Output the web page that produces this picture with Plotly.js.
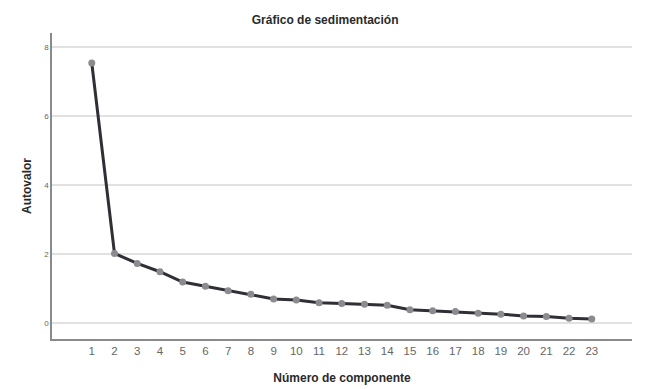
<!DOCTYPE html>
<html>
<head>
<meta charset="utf-8">
<script src="https://cdn.plot.ly/plotly-3.0.1.min.js"></script>
<style>html,body{margin:0;padding:0;background:#fff;}#chart{width:669px;height:389px;}</style>
</head>
<body>
<div id="chart"></div>
<script>
const components = [1,2,3,4,5,6,7,8,9,10,11,12,13,14,15,16,17,18,19,20,21,22,23];
const eigenvalues = [7.55,2.03,1.74,1.50,1.20,1.08,0.95,0.85,0.71,0.68,0.60,0.58,0.56,0.53,0.40,0.37,0.35,0.30,0.27,0.22,0.20,0.15,0.13];
const yTicks = [0,2,4,6,8];
const titleText = "Gráfico de sedimentación";
const xTitle = "Número de componente";
const yTitle = "Autovalor";

const trace = {
  x: components,
  y: eigenvalues,
  type: 'scatter',
  mode: 'lines+markers',
  line: {color: '#2f2f35', width: 3},
  marker: {color: '#8c8c90', size: 7},
  hoverinfo: 'x+y'
};

const layout = {
  width: 669, height: 389,
  paper_bgcolor: '#fff', plot_bgcolor: '#fff',
  margin: {l: 52, r: 37, t: 33, b: 50},
  showlegend: false,
  font: {family: 'Liberation Sans, Arial, sans-serif', color: '#444'},
  title: {text: titleText, x: 0.486, xanchor: 'center', y: 0.948, yanchor: 'middle', xref: 'container',
          font: {family: 'Liberation Sans, Arial, sans-serif', size: 12, color: '#2a2a2a', weight: 'bold'}},
  xaxis: {
    range: [-0.75, 24.77],
    tickvals: components,
    ticktext: components.map(String),
    tickfont: {size: 11.5, color: '#666'},
    showgrid: false, zeroline: false,
    showline: true, linecolor: '#8a8a8a', linewidth: 1.5,
    ticks: '', ticklen: 0,
    title: {text: xTitle, standoff: 18, font: {size: 12, color: '#2a2a2a', weight: 'bold'}}
  },
  yaxis: {
    range: [-0.45, 8.42],
    tickvals: yTicks,
    ticktext: yTicks.map(String),
    tickfont: {size: 8, color: '#666'},
    showgrid: true, gridcolor: '#e1e1e1', gridwidth: 1.5,
    zeroline: false,
    showline: true, linecolor: '#8a8a8a', linewidth: 1.5,
    ticks: '', ticklen: 0,
    title: {text: yTitle, standoff: 10, font: {size: 12, color: '#2a2a2a', weight: 'bold'}}
  }
};

Plotly.newPlot('chart', [trace], layout, {displayModeBar: false, responsive: false});
</script>
</body>
</html>
